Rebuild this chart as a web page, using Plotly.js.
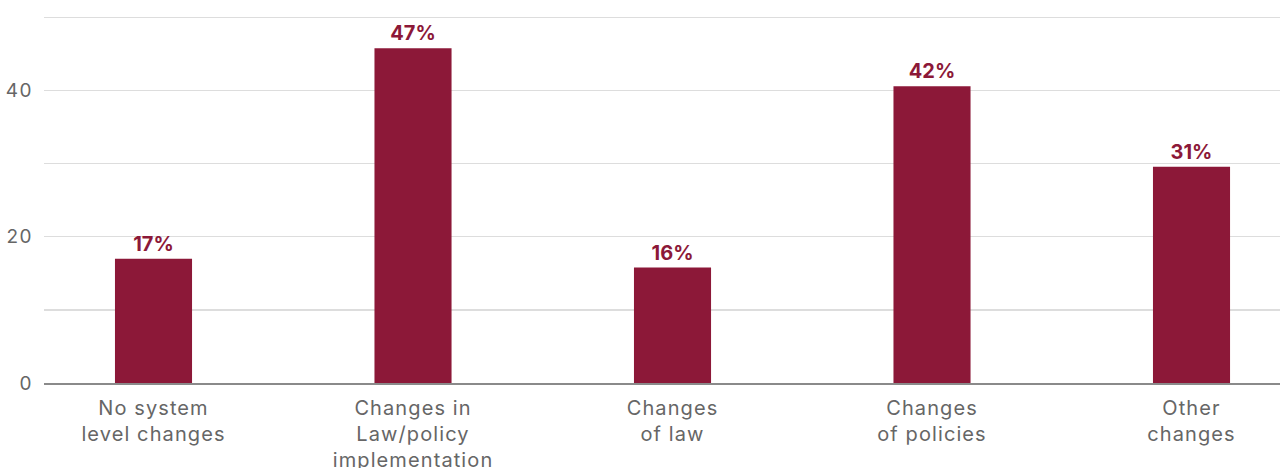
<!DOCTYPE html>
<html>
<head>
<meta charset="utf-8">
<script src="https://cdn.plot.ly/plotly-3.0.1.min.js"></script>
<style>
html,body{margin:0;padding:0;background:#fff;}
#chart{width:1280px;height:468px;}
#chart .xtick text{letter-spacing:1.1px;}
#chart .ytick text{letter-spacing:1.5px;}
</style>
</head>
<body>
<div id="chart"></div>
<script>
const categories = ["No system<br>level changes", "Changes in<br>Law/policy<br>implementation", "Changes<br>of law", "Changes<br>of policies", "Other<br>changes"];
const values = [17.0, 45.8, 15.8, 40.6, 29.6];
const labels = ["17%", "47%", "16%", "42%", "31%"];
const yTicks = [0, 10, 20, 30, 40, 50];
const yTickText = ["0", "", "20", "", "40", ""];

const barColor = "#8c1838";
const trace = {
  type: "bar",
  x: categories.map((c, i) => i),
  y: values,
  text: labels,
  textposition: "outside",
  cliponaxis: false,
  textfont: {family: "Inter, 'Open Sans', sans-serif", size: 20, color: barColor, weight: 700},
  marker: {color: barColor},
  width: 0.297,
  hoverinfo: "none"
};
const layout = {
  width: 1280, height: 468,
  margin: {l: 44, r: 0, t: 0, b: 85},
  paper_bgcolor: "#fff", plot_bgcolor: "#fff",
  showlegend: false,
  font: {family: "Inter, 'Open Sans', sans-serif", color: "#666"},
  xaxis: {
    range: [-0.422, 4.341],
    tickvals: categories.map((c, i) => i),
    ticktext: categories,
    tickfont: {size: 20, color: "#666"},
    showgrid: false, zeroline: false,
    showline: true, linecolor: "#8a8a8a", linewidth: 1.5,
    ticks: "", ticklabelstandoff: 6, fixedrange: true
  },
  yaxis: {
    range: [0, 52.4],
    tickvals: yTicks,
    ticktext: yTickText,
    tickfont: {size: 19, color: "#666"},
    showgrid: true, gridcolor: "#dddddd", gridwidth: 1.2,
    zeroline: false, showline: false, ticks: "",
    ticklabelstandoff: 10, fixedrange: true
  }
};
Plotly.newPlot("chart", [trace], layout, {displayModeBar: false, staticPlot: true});
</script>
</body>
</html>
